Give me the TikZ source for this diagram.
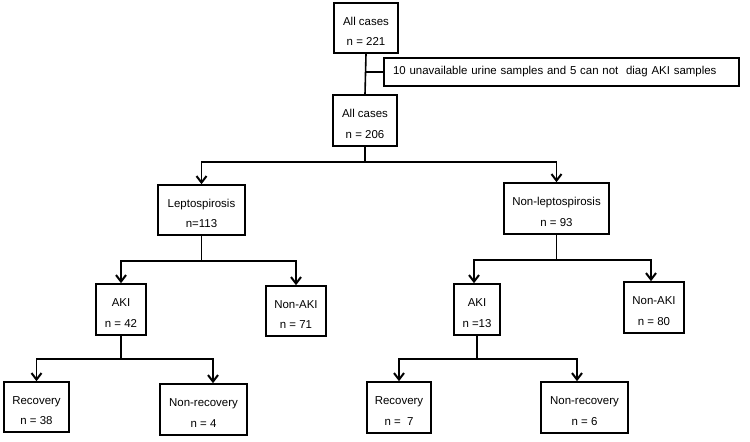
\documentclass[tikz,border=0pt]{standalone}
\usepackage{fontspec}
\setmainfont{Liberation Sans}
\usetikzlibrary{arrows.meta}
\newcommand\tup{\rule{0pt}{15bp}}
\begin{document}
\begin{tikzpicture}[x=1bp,y=-1bp,
  box/.style={draw,line width=1.6bp,align=center,inner sep=0pt,
    font=\fontsize{11.5}{20.5}\selectfont},
  lnk/.style={line width=1.6bp},
  arr/.style={line width=1.6bp,-{Straight Barb[length=6.5bp,width=10bp,line width=2bp]}}]
\useasboundingbox (0,0) rectangle (750,442);
\node[box,minimum width=64bp,minimum height=50bp] (top) at (366,28) {\tup All cases\\n = 221};
\node[box,minimum height=28bp,text width=337bp,inner xsep=9bp,align=left] (excl) at (561.5,72) {10 unavailable urine samples and 5 can not\ \ diag AKI samples};
\node[box,minimum width=64bp,minimum height=51bp] (all2) at (365,120.5) {\tup All cases\\n = 206};
\node[box,minimum width=87bp,minimum height=50bp] (lep) at (201.5,210) {\tup Leptospirosis\\n=113};
\node[box,minimum width=105bp,minimum height=51bp] (nonlep) at (556.5,208.5) {\tup Non-leptospirosis\\n = 93};
\node[box,minimum width=50bp,minimum height=51bp] (aki1) at (121,309.5) {\tup AKI\\n = 42};
\node[box,minimum width=60bp,minimum height=50bp] (nonaki1) at (296,311) {\tup Non-AKI\\n = 71};
\node[box,minimum width=46bp,minimum height=51bp] (aki2) at (477,309.5) {\tup AKI\\n =13};
\node[box,minimum width=60bp,minimum height=51bp] (nonaki2) at (654,307.5) {\tup Non-AKI\\n = 80};
\node[box,minimum width=65bp,minimum height=50bp] (rec1) at (36.5,407) {\tup Recovery\\n = 38};
\node[box,minimum width=87bp,minimum height=51bp] (nonrec1) at (203.5,409.5) {\tup Non-recovery\\n = 4};
\node[box,minimum width=64bp,minimum height=51bp] (rec2) at (399,407.5) {\tup Recovery\\n = \ 7};
\node[box,minimum width=87bp,minimum height=51bp] (nonrec2) at (584.5,407.5) {\tup Non-recovery\\n = 6};
% connectors
\draw[lnk] (top.south) -- (all2.north);
\draw[lnk] (excl.west) -- (excl.west -| top.south);
\draw[lnk] (all2.south) -- ++(0,15) coordinate (j1);
\draw[arr] (j1) -| (lep.north);
\draw[arr] (j1) -| (nonlep.north);
\draw[lnk] (lep.south) -- ++(0,25) coordinate (j2);
\draw[arr] (j2) -| (aki1.north);
\draw[arr] (j2) -| (nonaki1.north);
\draw[lnk] (nonlep.south) -- ++(0,25) coordinate (j3);
\draw[arr] (j3) -| ([xshift=-3bp]aki2.north);
\draw[arr] (j3) -| ([xshift=-3bp]nonaki2.north);
\draw[lnk] (aki1.south) -- ++(0,23) coordinate (j4);
\draw[arr] (j4) -| (rec1.north);
\draw[arr] (j4) -| ([xshift=9.5bp]nonrec1.north);
\draw[lnk] (aki2.south) -- ++(0,23) coordinate (j5);
\draw[arr] (j5) -| (rec2.north);
\draw[arr] (j5) -| ([xshift=-7.5bp]nonrec2.north);
\end{tikzpicture}
\end{document}
